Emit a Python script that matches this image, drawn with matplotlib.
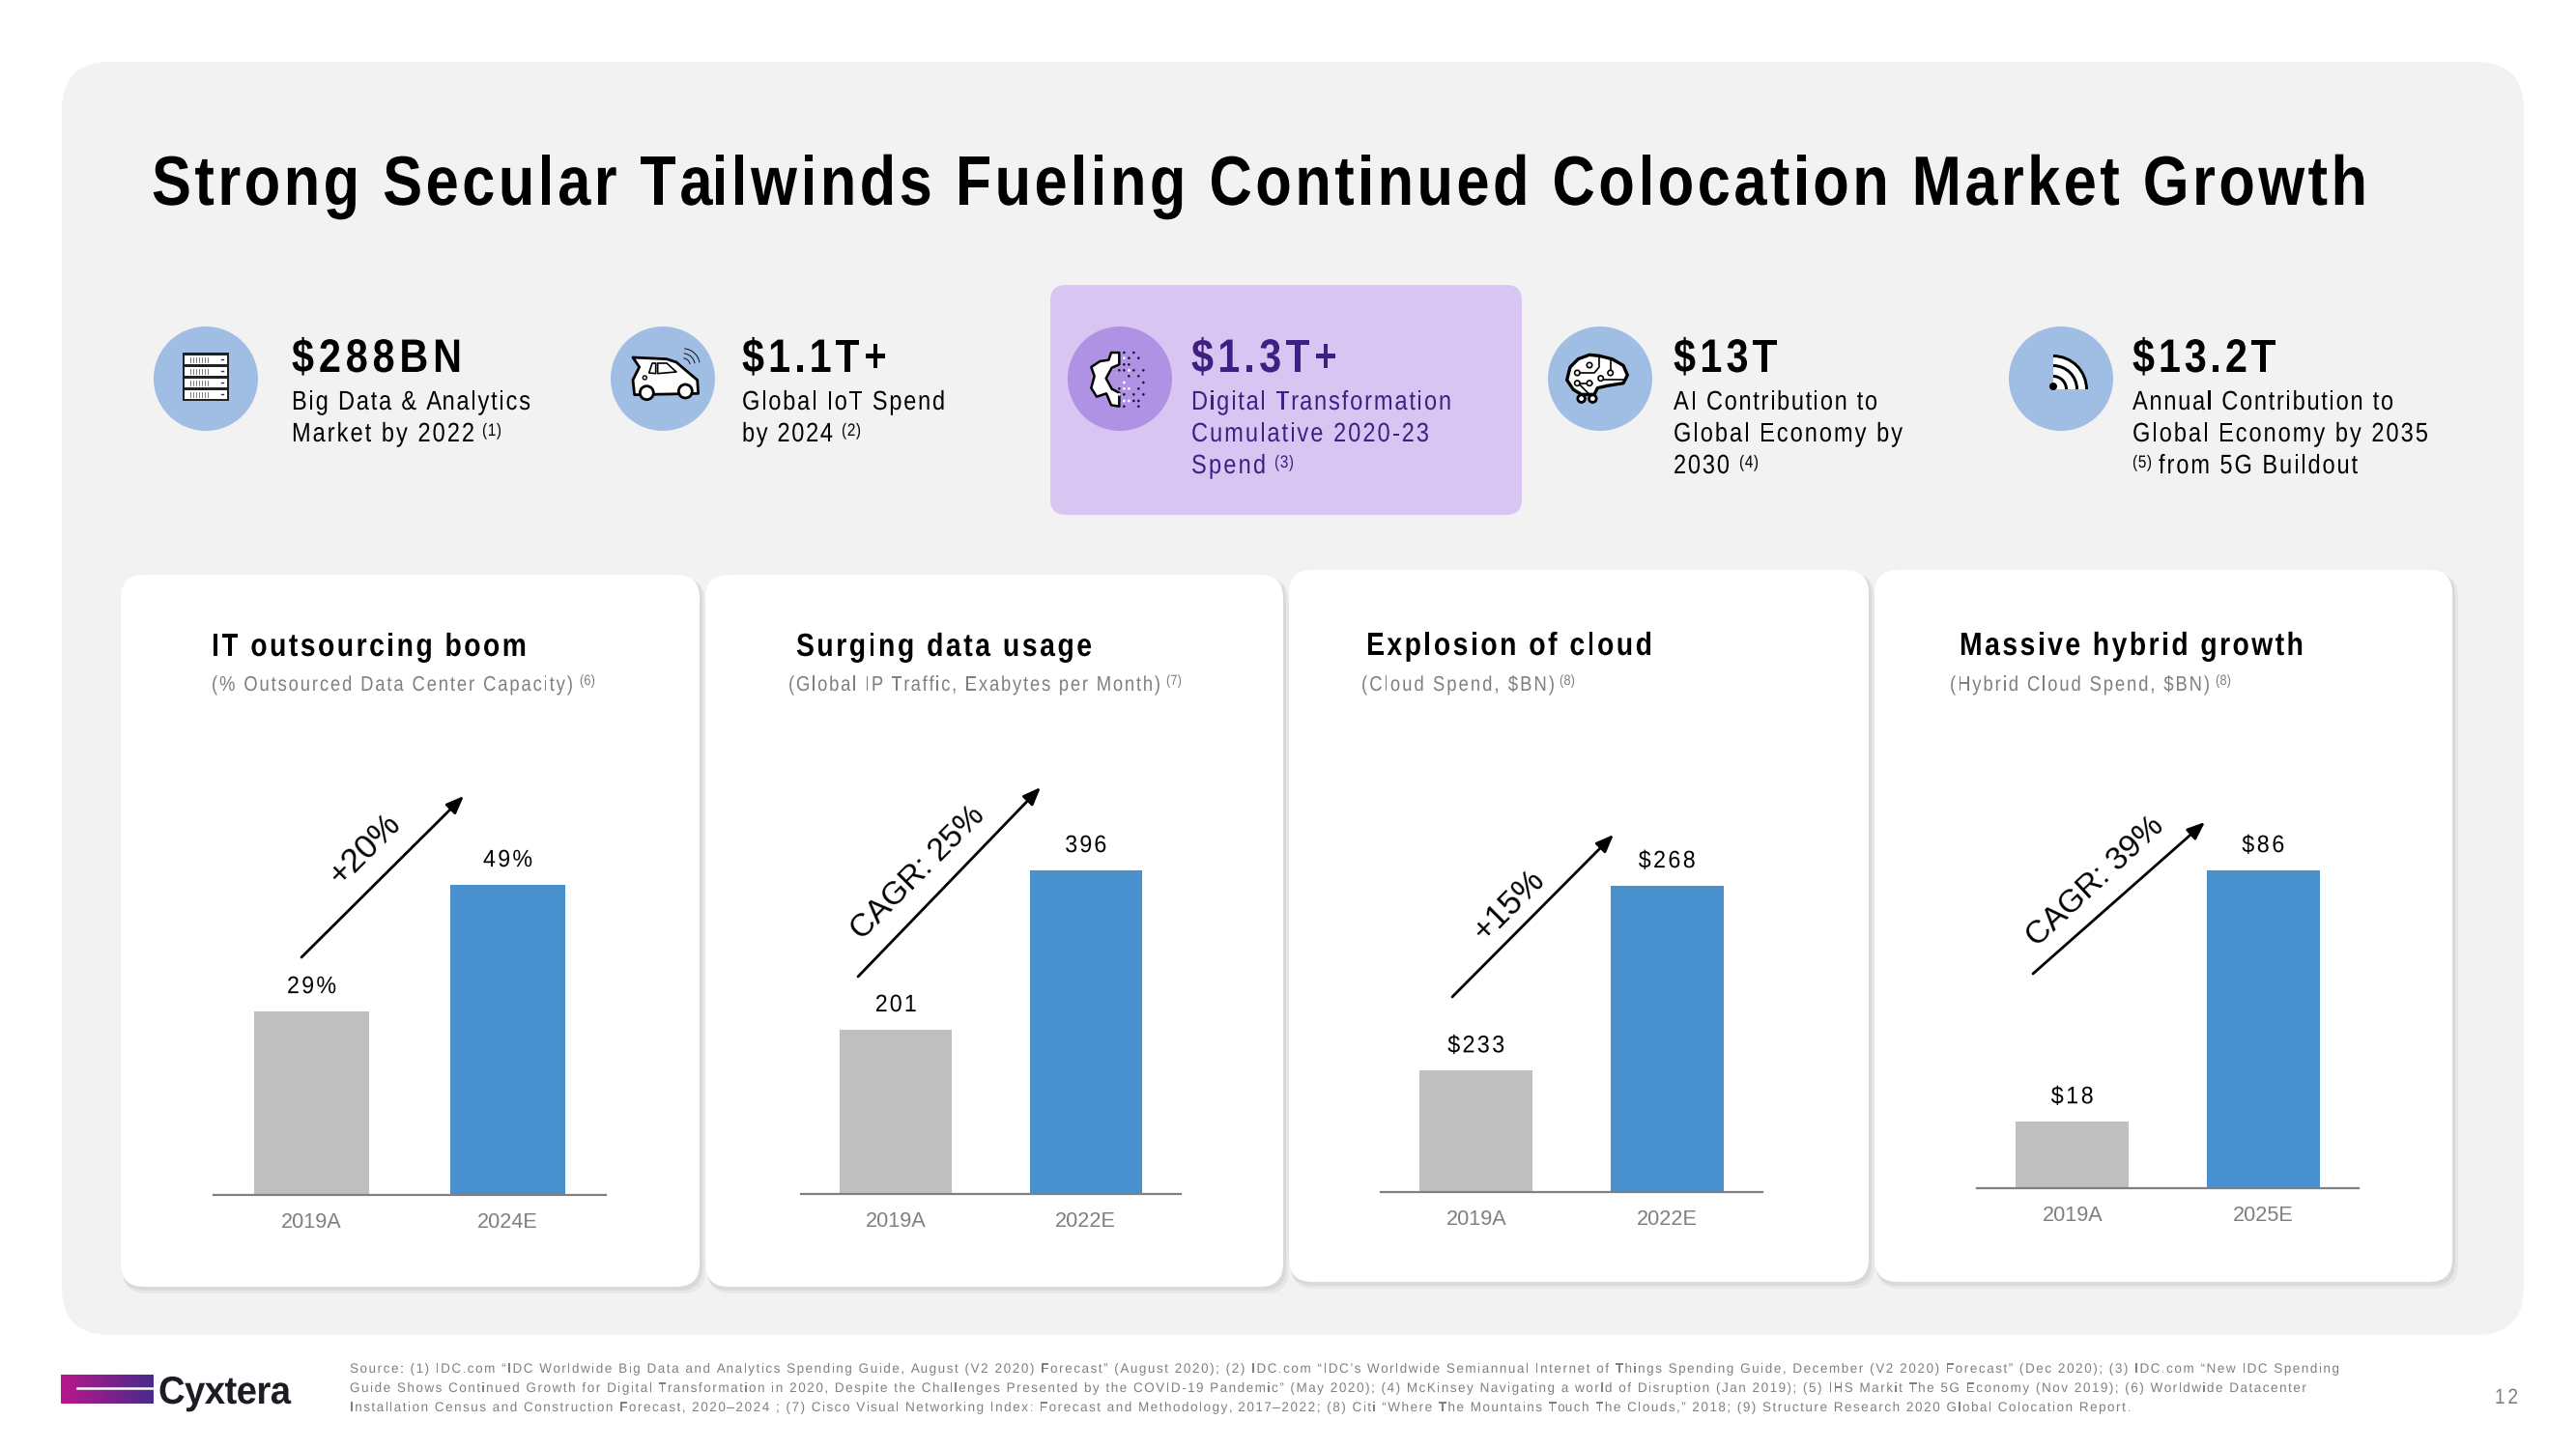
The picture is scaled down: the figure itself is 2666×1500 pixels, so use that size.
import matplotlib
matplotlib.use("Agg")
import matplotlib.pyplot as plt
import numpy as np
from matplotlib.colors import LinearSegmentedColormap, to_rgba
from matplotlib.patches import Circle, FancyBboxPatch, Polygon, Rectangle, Wedge
from matplotlib.path import Path
from matplotlib.text import Text
from matplotlib.textpath import TextPath
from matplotlib.transforms import Affine2D, offset_copy

plt.rcParams["font.family"] = ["Liberation Sans", "DejaVu Sans"]

W, H = 2666, 1500

title = "Strong Secular Tailwinds Fueling Continued Colocation Market Growth"

kpi_values = ["$288BN", "$1.1T+", "$1.3T+", "$13T", "$13.2T"]
kpi_lines = [
    ["Big Data & Analytics", "Market by 2022"],
    ["Global IoT Spend", "by 2024"],
    ["Digital Transformation", "Cumulative 2020-23", "Spend"],
    ["AI Contribution to", "Global Economy by", "2030"],
    ["Annual Contribution to", "Global Economy by 2035", "from 5G Buildout"],
]
kpi_notes = ["(1)", "(2)", "(3)", "(4)", "(5)"]

chart_titles = ["IT outsourcing boom", "Surging data usage", "Explosion of cloud", "Massive hybrid growth"]
chart_subtitles = [
    "(% Outsourced Data Center Capacity)",
    "(Global IP Traffic, Exabytes per Month)",
    "(Cloud Spend, $BN)",
    "(Hybrid Cloud Spend, $BN)",
]
chart_notes = ["(6)", "(7)", "(8)", "(8)"]
chart_years = [["2019A", "2024E"], ["2019A", "2022E"], ["2019A", "2022E"], ["2019A", "2025E"]]
chart_values = [[29, 49], [201, 396], [233, 268], [18, 86]]
chart_labels = [["29%", "49%"], ["201", "396"], ["$233", "$268"], ["$18", "$86"]]
chart_bases = [0, 0, 210, 0]  # the cloud chart's axis is cut off in the original
growth_labels = ["+20%", "CAGR: 25%", "+15%", "CAGR: 39%"]

source_lines = [
    "Source: (1) IDC.com \u201cIDC Worldwide Big Data and Analytics Spending Guide, August (V2 2020) Forecast\u201d (August 2020); (2) IDC.com \u201cIDC\u2019s Worldwide Semiannual Internet of Things Spending Guide, December (V2 2020) Forecast\u201d (Dec 2020); (3) IDC.com \u201cNew IDC Spending",
    "Guide Shows Continued Growth for Digital Transformation in 2020, Despite the Challenges Presented by the COVID-19 Pandemic\u201d (May 2020); (4) McKinsey Navigating a world of Disruption (Jan 2019); (5) IHS Markit The 5G Economy (Nov 2019); (6) Worldwide Datacenter",
    "Installation Census and Construction Forecast, 2020\u20132024 ; (7) Cisco Visual Networking Index: Forecast and Methodology, 2017\u20132022; (8) Citi \u201cWhere The Mountains Touch The Clouds,\u201d 2018; (9) Structure Research 2020 Global Colocation Report.",
]

# layout, in pixels of the 2666x1500 slide
PANEL = "#f2f2f2"
BLUE = "#4890ce"
GREY = "#bfbfbf"
CIRCLE = "#a0bee4"
PURPLE = "#3f2082"
kpi_circles = [213, 686, 1159, 1656, 2133]
kpi_x = [302, 768, 1233, 1732, 2207]
kpi_value_w = [176, 150, 151, 107, 148]
kpi_line_w = [[247, 189], [210, 94], [269, 246, 77], [211, 237, 58], [270, 306, 206]]
kpi_note_xy = [(499, 451), (871, 451), (1319, 484), (1800, 484), (2207, 484)]
cards = [(125, 595, 724, 1332), (730, 595, 1328, 1332), (1334, 590, 1934, 1327), (1940, 590, 2538, 1327)]
title_x = [219, 824, 1414, 2028]
title_w = [326, 306, 296, 356]
title_y = [679, 679, 678, 678]
sub_x = [219, 816, 1409, 2018]
sub_w = [374, 385, 200, 269]
note_x = [600, 1207, 1614, 2293]
axis_l = [221, 829, 1429, 2046]
axis_r = [627, 1222, 1824, 2441]
axis_base = [1237, 1236, 1234, 1230]
axis_top = [916, 901, 917, 901]
value_w = [[51, 51], [43, 43], [59, 59], [44, 44]]
arrows = [((312, 991), (480, 824)), ((888, 1011), (1077, 815)), ((1503, 1032), (1670, 864)), ((2104, 1008), (2282, 851))]
growth_xy = [(377, 879), (950, 904), (1561, 937), (2169, 913)]
growth_rot = [45, 45, 45, 43]
growth_size = [12.5, 12, 12.5, 12]


class TrackedText(Text):
    # no letter spacing or condensed glyphs in matplotlib, so draw each glyph squeezed
    # by hscale and spread to a target pixel width
    def __init__(self, x, y, s, width=None, hscale=0.85, center=False, **kw):
        super().__init__(x, y, s, **kw)
        self.target = width
        self.hscale = hscale
        self.center = center

    def draw(self, renderer):
        s = self.get_text()
        fp = self.get_fontproperties()
        x, y = self.get_transform().transform(self.get_position())
        natural = renderer.get_text_width_height_descent(s, fp, False)[0] * self.hscale
        track = 0 if self.target is None else (self.target - natural) / max(len(s) - 1, 1)
        if self.center:
            x -= (natural + track * (len(s) - 1)) / 2
        k = renderer.dpi / 72
        gc = renderer.new_gc()
        gc.set_linewidth(0)
        face = to_rgba(self.get_color())
        for i, ch in enumerate(s):
            if ch == " ":
                continue
            adv = renderer.get_text_width_height_descent(s[:i], fp, False)[0] * self.hscale if i else 0
            tp = TextPath((0, 0), ch, prop=fp)
            tr = Affine2D().scale(k * self.hscale, k).translate(x + adv + i * track, y)
            renderer.draw_path(gc, Path(tp.vertices, tp.codes), tr, face)
        gc.restore()


fig = plt.figure(figsize=(W / 200, H / 200), dpi=200, facecolor="white")
bg = fig.add_axes([0, 0, 1, 1])
bg.set_xlim(0, W)
bg.set_ylim(H, 0)
bg.axis("off")


def put(x, y, s, size, width=None, color="black", weight="normal", hscale=0.85):
    t = TrackedText(x, y, s, width=width, hscale=hscale, fontsize=size, color=color, fontweight=weight,
                    va="baseline", ha="left", transform=bg.transData, zorder=6)
    bg.add_artist(t)


def round_box(x0, y0, x1, y1, r, color, zorder=1, alpha=1):
    bg.add_patch(FancyBboxPatch((x0, y0), x1 - x0, y1 - y0, boxstyle=f"round,pad=0,rounding_size={r}",
                                fc=color, ec="none", zorder=zorder, alpha=alpha))


def crop(x0, y0, pts):
    return [(x0 + a / 3, y0 + b / 3) for a, b in pts]


def shape(x0, y0, pts, fc="white", lw=1.0):
    bg.add_patch(Polygon(crop(x0, y0, pts), closed=True, fc=fc, ec="black", lw=lw, zorder=4, joinstyle="round"))


def line(x0, y0, pts, lw=0.6, color="black"):
    p = crop(x0, y0, pts)
    bg.plot([a for a, b in p], [b for a, b in p], color=color, lw=lw, zorder=5, solid_capstyle="round")


def dot(x, y, r, fc="white", ec="black", lw=0.8):
    bg.add_patch(Circle((x, y), r, fc=fc, ec=ec, lw=lw, zorder=5))


def server_icon():
    bg.add_patch(Rectangle((189, 365), 48, 50, fc="#222222", ec="none", zorder=4))
    for row in range(4):
        y = 367.5 + row * 12
        bg.add_patch(Rectangle((191, y), 44, 9.8, fc="white", ec="none", zorder=5))
        for k in range(7):
            bg.plot([197 + k * 3] * 2, [y + 2, y + 7.5], color="#666666", lw=0.3, zorder=6)
        bg.plot([229, 231], [y + 4.7, y + 4.7], color="#333333", lw=0.5, zorder=6)


def car_icon():
    x0, y0 = 640, 350
    shape(x0, y0, [(45, 60), (150, 65), (180, 75), (215, 105), (245, 130), (248, 172), (50, 176), (45, 130), (65, 90)])
    shape(x0, y0, [(95, 108), (105, 78), (116, 78), (116, 110)], lw=0.6)
    shape(x0, y0, [(122, 78), (150, 78), (180, 105), (122, 110)], lw=0.6)
    dot(x0 + 82 / 3, y0 + 123 / 3, 2, lw=0.5)
    dot(x0 + 88 / 3, y0 + 170 / 3, 7, lw=1.0)
    dot(x0 + 208 / 3, y0 + 165 / 3, 7, lw=1.0)
    for r in (8, 13, 18):
        bg.add_patch(Wedge((x0 + 200 / 3, y0 + 85 / 3), r, 275, 350, width=0.9, fc="black", ec="none", zorder=5))


def gear_icon():
    x0, y0 = 1110, 350
    shape(x0, y0, [(145, 45), (120, 45), (112, 68), (85, 72), (58, 90), (68, 118), (58, 155), (75, 182),
                   (105, 172), (120, 208), (145, 212), (145, 170), (122, 158), (104, 125), (122, 92), (145, 82)], lw=0.9)
    black = [(160, 45), (190, 45), (175, 62), (205, 62), (160, 82), (175, 82), (145, 100), (160, 100), (190, 100),
             (220, 100), (175, 118), (205, 118), (220, 138), (145, 157), (205, 157), (160, 175), (190, 175), (220, 175),
             (145, 195), (190, 195), (205, 195), (160, 212), (205, 212)]
    white = [(160, 62), (175, 100), (160, 138), (160, 157), (175, 157), (160, 195), (175, 195), (145, 175)]
    for a, b in black:
        dot(x0 + a / 3, y0 + b / 3, 1.3, fc="#1a1033", ec="none")
    for a, b in white:
        dot(x0 + a / 3, y0 + b / 3, 1.4, fc="white", ec="none")


def brain_icon():
    x0, y0 = 1605, 350
    shape(x0, y0, [(50, 130), (60, 90), (85, 65), (120, 52), (150, 55), (190, 65), (225, 85), (238, 115),
                   (225, 140), (175, 148), (145, 155), (135, 175), (95, 175), (70, 160)], lw=1.2)
    line(x0, y0, [(90, 108), (135, 108), (150, 90), (150, 60)])
    line(x0, y0, [(185, 70), (185, 100)])
    line(x0, y0, [(160, 130), (225, 130)])
    line(x0, y0, [(90, 140), (128, 140)])
    line(x0, y0, [(85, 140), (125, 180)])
    for a, b, r in [(120, 84, 2.7), (82, 108, 2.7), (185, 108, 2.7), (155, 125, 2.7), (82, 140, 2.7), (120, 140, 2.7)]:
        dot(x0 + a / 3, y0 + b / 3, r, lw=0.6)
    dot(x0 + 95 / 3, y0 + 188 / 3, 3.8, lw=1.0)
    dot(x0 + 130 / 3, y0 + 188 / 3, 3.8, lw=1.0)


def wifi_icon():
    c = (2125, 403)
    bg.add_patch(Wedge(c, 36, 270, 360, fc="white", ec="none", zorder=4))
    for r in (15, 26, 36):
        bg.add_patch(Wedge(c, r, 270, 360, width=3, fc="black", ec="none", zorder=5))
    dot(2125, 400, 4, fc="black", ec="none")


def logo():
    grad = np.linspace(0, 1, 64).reshape(1, -1)
    cmap = LinearSegmentedColormap.from_list("cyx", ["#b8178c", "#4a2a8c"])
    bg.imshow(grad, cmap=cmap, extent=(63, 159, 1453, 1423), aspect="auto", zorder=2)
    bg.set_xlim(0, W)
    bg.set_ylim(H, 0)
    bg.plot([80, 159], [1437, 1437], color="white", lw=0.9, zorder=3)
    put(164, 1453, "Cyxtera", 14.5, width=137, color="#1c1c24", weight="bold", hscale=0.95)


# panel and highlight box
round_box(64, 64, 2612, 1382, 50, PANEL)
round_box(1087, 295, 1575, 533, 16, "#d8c5f2", zorder=2)

put(157, 212, title, 26, width=2293, weight="bold")

# KPI row
for i, value in enumerate(kpi_values):
    hi = i == 2
    col = PURPLE if hi else "black"
    bg.add_patch(Circle((kpi_circles[i], 392), 54, fc="#af92e3" if hi else CIRCLE, ec="none", zorder=3))
    put(kpi_x[i], 385, value, 17.5, width=kpi_value_w[i], color=col, weight="bold")
    for j, txt in enumerate(kpi_lines[i]):
        x = 2234 if txt.startswith("from") else kpi_x[i]
        put(x, 424 + 33 * j, txt, 10, width=kpi_line_w[i][j], color=col)
    put(kpi_note_xy[i][0], kpi_note_xy[i][1], kpi_notes[i], 6.5, width=20, color=col)

server_icon()
car_icon()
gear_icon()
brain_icon()
wifi_icon()

# cards and bar charts
for i in range(4):
    x0, y0, x1, y1 = cards[i]
    round_box(x0 + 2, y0 + 4, x1 + 6, y1 + 7, 24, "#d8d8d8", zorder=2, alpha=0.4)
    round_box(x0 + 1, y0 + 2, x1 + 3, y1 + 4, 24, "#cccccc", zorder=2, alpha=0.5)
    round_box(x0, y0, x1, y1, 24, "white", zorder=3)

    put(title_x[i], title_y[i], chart_titles[i], 12, width=title_w[i], weight="bold")
    put(sub_x[i], 715, chart_subtitles[i], 7.8, width=sub_w[i], color="#7f7f7f")
    put(note_x[i], 709, chart_notes[i], 5.4, width=16, color="#7f7f7f")

    ax = fig.add_axes([axis_l[i] / W, 1 - axis_base[i] / H, (axis_r[i] - axis_l[i]) / W,
                       (axis_base[i] - axis_top[i]) / H], zorder=5)
    ax.patch.set_alpha(0)
    base = chart_bases[i]
    ax.bar([0, 1], [v - base for v in chart_values[i]], width=0.59, color=[GREY, BLUE], bottom=base)
    ax.set_xlim(-0.5, 1.5)
    ax.set_ylim(base, chart_values[i][1])
    lift = offset_copy(ax.transData, fig=fig, y=6.8, units="points")
    for x, v, lab, w in zip([0, 1], chart_values[i], chart_labels[i], value_w[i]):
        ax.add_artist(TrackedText(x, v, lab, width=w, hscale=0.93, center=True, fontsize=9, color="black", transform=lift))
    ax.set_xticks([0, 1])
    ax.set_xticklabels(chart_years[i], fontsize=7.8, color="#7f7f7f")
    ax.tick_params(axis="x", length=0, pad=6.5)
    ax.set_yticks([])
    for side in ("top", "left", "right"):
        ax.spines[side].set_visible(False)
    ax.spines["bottom"].set_color("#808080")
    ax.spines["bottom"].set_linewidth(0.8)

    bg.annotate("", xy=arrows[i][1], xytext=arrows[i][0], zorder=6,
                arrowprops=dict(arrowstyle="-|>,head_width=0.22,head_length=0.55", color="black", lw=1.0,
                                shrinkA=0, shrinkB=0))
    fig.text(growth_xy[i][0] / W, 1 - growth_xy[i][1] / H, growth_labels[i], fontsize=growth_size[i],
             rotation=growth_rot[i], rotation_mode="anchor", ha="center", va="center", color="black", zorder=7)

# footer
logo()
source_w = [2059, 2025, 1843]
for j, txt in enumerate(source_lines):
    put(362, 1421 + 20 * j, txt, 5, width=source_w[j], color="#808080", hscale=0.97)
put(2582, 1453, "12", 8, width=24, color="#808080")

fig.savefig("out.png", dpi=200)
